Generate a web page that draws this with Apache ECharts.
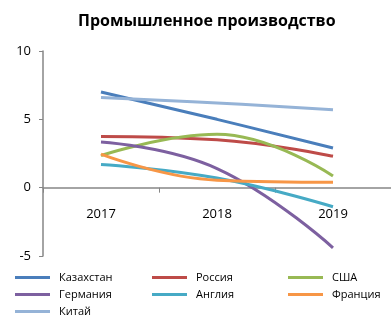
<!DOCTYPE html>
<html>
<head>
<meta charset="utf-8">
<script src="https://cdn.jsdelivr.net/npm/echarts@6/dist/echarts.min.js"></script>
<style>
  html, body { margin: 0; padding: 0; background: #fff; }
  #chart { width: 391px; height: 316px; }
</style>
</head>
<body>
<div id="chart"></div>
<script>
// данные
const years = ['2017', '2018', '2019'];
const kazakhstan = [7.0, 5.0, 2.9];
const russia = [3.75, 3.5, 2.3];
const usa = [2.35, 3.9, 0.85];
const germany = [3.35, 1.4, -4.4];
const england = [1.7, 0.7, -1.4];
const france = [2.45, 0.55, 0.4];
const china = [6.6, 6.2, 5.7];
const yTicks = [-5, 0, 5, 10];

const font = 'Open Sans, Noto Sans, sans-serif';

function line(name, data, color) {
  return {
    name: name,
    type: 'line',
    data: data,
    smooth: 0.45,
    symbol: 'none',
    lineStyle: { width: 3, color: color },
    itemStyle: { color: color }
  };
}

// одна подпись легенды = один компонент, чтобы колонки стояли ровно
function legendItem(name, left, top) {
  return {
    left: left,
    top: top,
    padding: 0,
    itemWidth: 35,
    itemHeight: 3,
    icon: 'rect',
    data: [name],
    textStyle: { fontFamily: font, fontSize: 11, color: '#000', padding: [0, 0, 0, 4] }
  };
}

const chart = echarts.init(document.getElementById('chart'));
chart.setOption({
  animation: false,
  title: {
    text: 'Промышленное производство',
    left: 78,
    top: 13,
    padding: 0,
    textStyle: { fontFamily: font, fontSize: 16, fontWeight: 'bold', color: '#000' }
  },
  legend: [
    legendItem('Казахстан', 15, 272),
    legendItem('Германия', 15, 289),
    legendItem('Китай', 15, 306),
    legendItem('Россия', 152, 272),
    legendItem('Англия', 152, 289),
    legendItem('США', 288, 272),
    legendItem('Франция', 288, 289)
  ],
  grid: { left: 43, right: -12, top: 51, bottom: 60 },
  xAxis: [{
    type: 'category',
    data: years,
    boundaryGap: true,
    axisLine: { onZero: true, lineStyle: { color: '#868686', width: 1.5 } },
    axisTick: { show: true, length: 5, lineStyle: { color: '#868686' } },
    axisLabel: { show: false }
  }, {
    // подписи годов прямо под нулевой линией
    type: 'category',
    data: years,
    position: 'bottom',
    offset: -69,
    boundaryGap: true,
    axisLine: { show: false },
    axisTick: { show: false },
    axisLabel: { fontFamily: font, fontSize: 13, color: '#000', margin: 21 }
  }],
  yAxis: {
    type: 'value',
    min: yTicks[0],
    max: yTicks[yTicks.length - 1],
    interval: 5,
    splitLine: { show: false },
    axisLine: { show: true, lineStyle: { color: '#868686', width: 1.5 } },
    axisTick: { show: true, length: 4, lineStyle: { color: '#868686' } },
    axisLabel: { fontFamily: font, fontSize: 13, color: '#000', margin: 12 }
  },
  series: [
    line('Казахстан', kazakhstan, '#4A7EBB'),
    line('Россия', russia, '#BE4B48'),
    line('США', usa, '#98B954'),
    line('Германия', germany, '#7D60A0'),
    line('Англия', england, '#46AAC5'),
    line('Франция', france, '#F79646'),
    line('Китай', china, '#95B3D7')
  ]
});
</script>
</body>
</html>
